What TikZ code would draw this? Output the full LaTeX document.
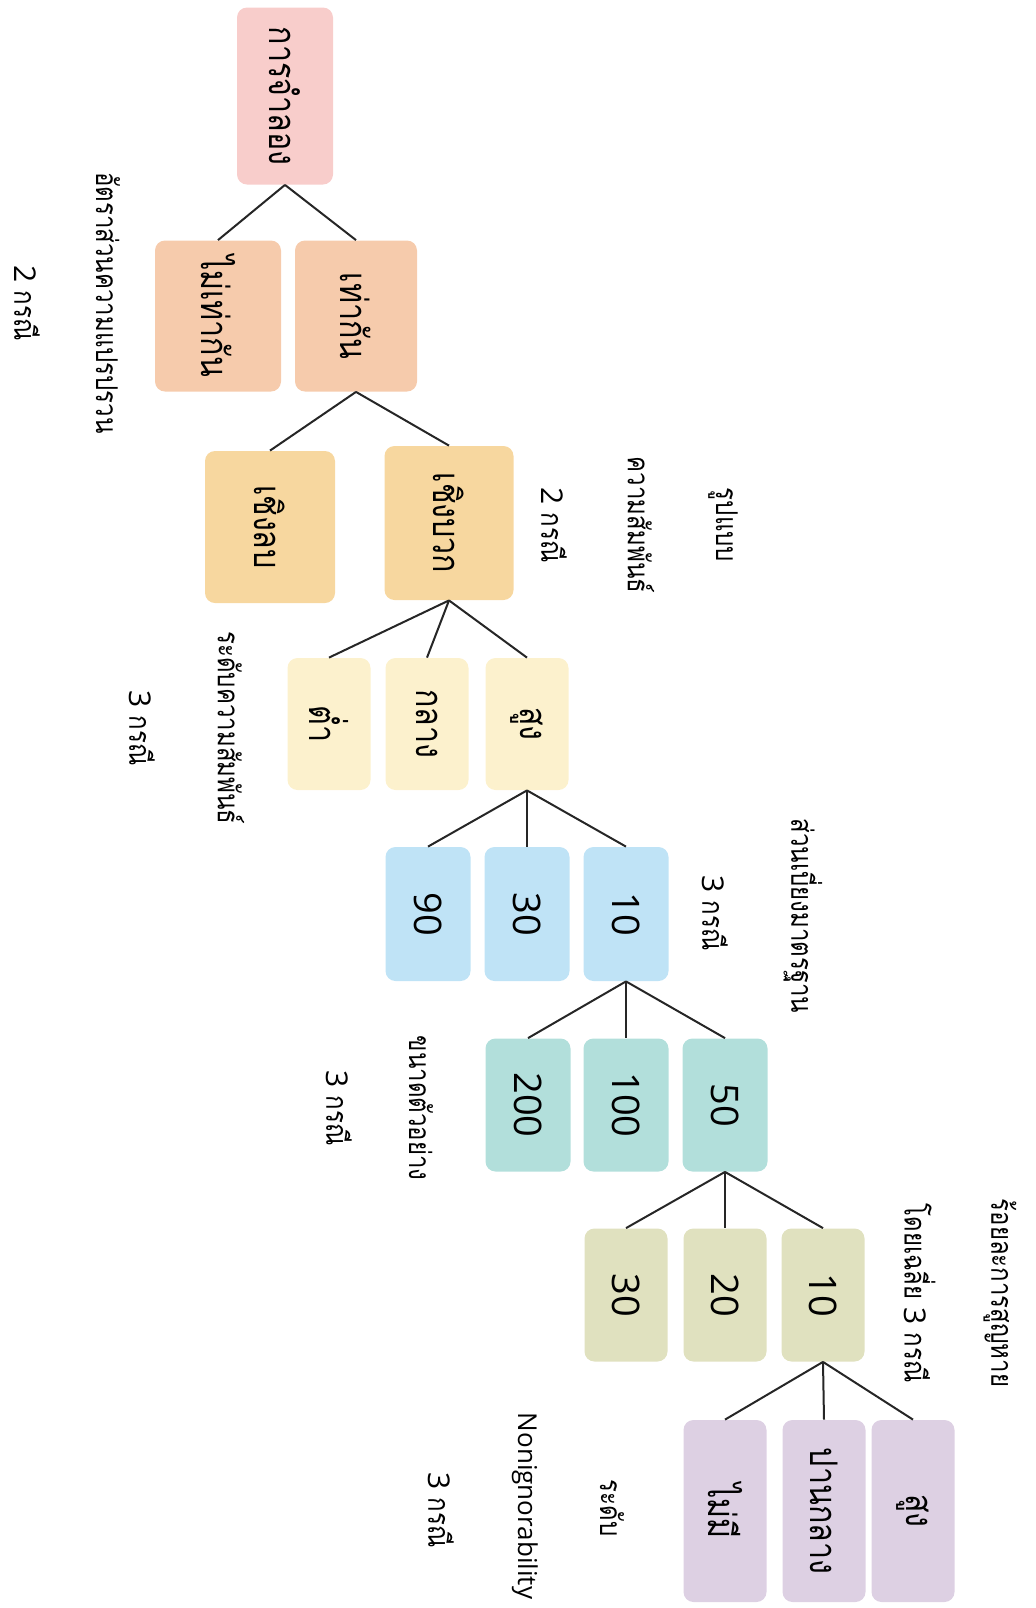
\documentclass[tikz,border=0pt]{standalone}
\usepackage{fontspec}
\setmainfont{Open Sans}
\newfontfamily\thaifont[Script=Thai,FakeStretch=0.8]{Loma}
\definecolor{rootfill}{HTML}{F8CDCB}
\definecolor{varfill}{HTML}{F6CBAC}
\definecolor{corrfill}{HTML}{F7D79F}
\definecolor{lvlfill}{HTML}{FCF1CD}
\definecolor{sdfill}{HTML}{BFE3F6}
\definecolor{nfill}{HTML}{B2DFDB}
\definecolor{missfill}{HTML}{E0E1BF}
\definecolor{nifill}{HTML}{DDD0E3}
\begin{document}
\begin{tikzpicture}[x=0.5pt, y=-0.5pt, font=\fontsize{19}{22}\selectfont,
  box/.style 2 args={rotate=-90, minimum width=#1, minimum height=#2,
    rounded corners=5pt, inner sep=0pt, text=black},
  lbl/.style={rotate=-90, inner sep=0pt, text=black,
    font=\fontsize{15}{18}\selectfont},
  link/.style={draw=black!85, line width=1pt}]
\useasboundingbox (0,0) rectangle (1035,1608);
%root
\node[box={88.5pt}{48pt}, fill=rootfill] (root) at (285,96) {\thaifont การจำลอง};
%variance ratio
\node[box={75.5pt}{63pt}, fill=varfill] (neq) at (218,316) {\thaifont ไม่เท่ากัน};
\node[box={75.5pt}{61pt}, fill=varfill] (eq) at (356,316) {\thaifont เท่ากัน};
%correlation
\node[box={76pt}{65pt}, fill=corrfill] (neg) at (270,527) {\thaifont เชิงลบ};
\node[box={77pt}{64.5pt}, fill=corrfill] (pos) at (449,523) {\thaifont เชิงบวก};
%correlation level
\foreach \t/\cx/\nm in {ต่ำ/329/low, กลาง/427/mid, สูง/527/high}
  \node[box={66pt}{41.5pt}, fill=lvlfill] (\nm) at (\cx,724) {\thaifont\t};
%standard deviation
\foreach \t/\cx in {90/428, 30/527, 10/626}
  \node[box={67pt}{42.5pt}, fill=sdfill] (sd\t) at (\cx,914) {\t};
%sample size
\foreach \t/\cx in {200/528, 100/626, 50/725}
  \node[box={66.5pt}{42.5pt}, fill=nfill] (n\t) at (\cx,1105) {\t};
%missing rate
\foreach \t/\cx in {30/626, 20/725, 10/823}
  \node[box={66.5pt}{41.5pt}, fill=missfill] (miss\t) at (\cx,1295) {\t};
%nonignorability
\foreach \t/\cx/\nm in {ไม่มี/725/none, ปานกลาง/824/mod, สูง/913/strong}
  \node[box={91pt}{41.5pt}, fill=nifill] (ni\nm) at (\cx,1511) {\thaifont\t};
%connectors
\foreach \c in {neq,eq} \draw[link] (root.east) -- (\c.west);
\foreach \c in {neg,pos} \draw[link] (eq.east) -- (\c.west);
\foreach \c in {low,mid,high} \draw[link] (pos.east) -- (\c.west);
\foreach \c in {90,30,10} \draw[link] (high.east) -- (sd\c.west);
\foreach \c in {200,100,50} \draw[link] (sd10.east) -- (n\c.west);
\foreach \c in {30,20,10} \draw[link] (n50.east) -- (miss\c.west);
\foreach \c in {none,mod,strong} \draw[link] (miss10.east) -- (ni\c.west);
%labels
\node[lbl] (cases1) at (27,303) {2 {\thaifont กรณี}};
\node[lbl] (head1) at (108,303) {\thaifont อัตราส่วนความแปรปรวน};
\node[lbl] (head2a) at (723,525) {\thaifont รูปแบบ};
\node[lbl] (head2b) at (641,525) {\thaifont ความสัมพันธ์};
\node[lbl] (cases2) at (554,525) {2 {\thaifont กรณี}};
\node[lbl] (head3) at (231,728) {\thaifont ระดับความสัมพันธ์};
\node[lbl] (cases3) at (142,728) {3 {\thaifont กรณี}};
\node[lbl] (head4) at (803,916) {\thaifont ส่วนเบี่ยงมาตรฐาน};
\node[lbl] (cases4) at (715,913) {3 {\thaifont กรณี}};
\node[lbl] (head5) at (421,1108) {\thaifont ขนาดตัวอย่าง};
\node[lbl] (cases5) at (339,1108) {3 {\thaifont กรณี}};
\node[lbl] (head6a) at (1000,1293) {\thaifont ร้อยละการสูญหาย};
\node[lbl] (head6b) at (920,1293) {\thaifont โดยเฉลี่ย {\rmfamily 3} กรณี};
\node[lbl, font=\fontsize{13}{16}\selectfont] (head7a) at (525,1506) {Nonignorability};
\node[lbl] (head7b) at (612,1508) {\thaifont ระดับ};
\node[lbl] (cases7) at (441,1510) {3 {\thaifont กรณี}};
\end{tikzpicture}
\end{document}
